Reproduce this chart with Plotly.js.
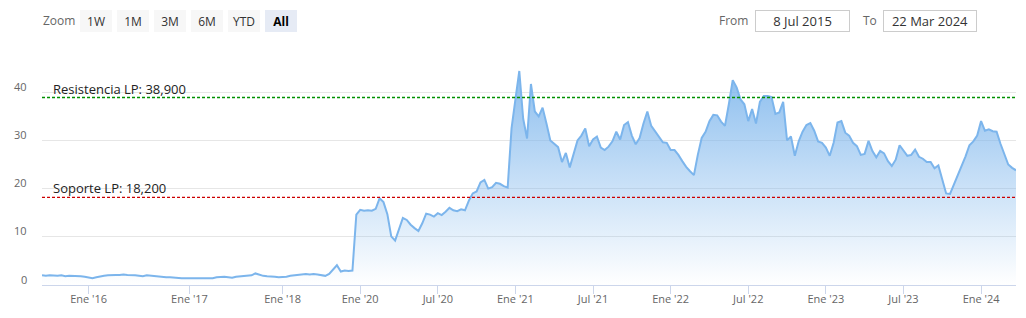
<!DOCTYPE html>
<html>
<head>
<meta charset="utf-8">
<script src="https://cdn.plot.ly/plotly-3.0.1.min.js"></script>
<style>
html,body{margin:0;padding:0;background:#fff;}
#chart{width:1026px;height:318px;}
</style>
</head>
<body>
<div id="chart"></div>
<script>
// ---- Data (ordinal points, one array per period; label marks the start of the period) ----
const periodLabels = ["", "Ene '16", "Ene '17", "Ene '18", "Ene '20", "Jul '20", "Ene '21", "Jul '21", "Ene '22", "Jul '22", "Ene '23", "Jul '23", "Ene '24"];
const v2015H2 = [2.0,1.9,2.0,1.9,1.9,2.0,1.8,1.9,1.9,1.8,1.8,1.7];
const v2016   = [1.6,1.4,1.6,1.8,1.9,2.0,2.1,2.1,2.1,2.2,2.1,2.1,2.0,1.9,1.8,2.0,1.9,1.8,1.8,1.7,1.6,1.6,1.5,1.5,1.4,1.4];
const v2017   = [1.4,1.3,1.3,1.3,1.4,1.3,1.4,1.6,1.7,1.7,1.6,1.5,1.7,1.8,1.9,1.9,2.0,2.4,2.1,1.9,1.8,1.8,1.7,1.6];
const v2018_19 = [1.6,1.7,1.9,2.0,2.1,2.2,2.3,2.2,2.3,2.2,2.0,1.9,2.3,3.2,4.1,2.8,3.0,2.9,3.0,14.6];
const v2020H1 = [15.6,15.4,15.5,15.4,15.8,18.0,17.2,14.7,10.1,9.2,11.5,13.9,13.5,12.5,11.8,11.2,12.8,14.8,14.6,14.2];
const v2020H2 = [14.9,14.5,15.2,16.0,15.5,15.3,15.7,15.5,17.5,19.0,19.4,21.3,21.8,20.0,20.3,21.2,21.0,20.5,20.2,32.5];
const v2021H1 = [38.5,44.4,34.5,30.4,41.7,36.0,35.0,36.8,33.5,30.0,29.3,28.6,25.5,27.4,24.4,27.5,30.0,31.0,32.5,28.8];
const v2021H2 = [30.2,30.8,28.5,28.0,28.7,29.8,31.8,30.2,33.2,33.8,31.0,29.2,30.5,33.5,36.0,33.0,31.8,30.8,29.6,29.5];
const v2022H1 = [28.0,28.0,27.0,25.7,24.5,23.6,22.8,27.0,30.5,31.8,34.0,35.3,35.2,33.9,33.0,37.5,42.5,41.0,38.5,37.5];
const v2022H2 = [34.0,36.5,33.5,38.0,39.2,39.2,39.0,35.5,35.8,38.0,30.0,30.8,26.8,29.8,31.8,33.2,33.6,32.0,29.8,29.5];
const v2023H1 = [28.5,26.8,29.5,33.7,34.0,31.6,31.0,29.5,28.8,27.0,27.2,29.9,27.8,26.5,27.8,27.3,25.7,24.7,26.0,29.0];
const v2023H2 = [28.0,26.8,27.0,28.1,26.6,26.2,25.5,25.5,24.2,24.8,21.9,19.0,18.9,20.8,23.0,25.0,26.7,29.0,29.8,31.0];
const v2024   = [34.0,32.0,32.3,31.9,31.8,29.3,27.2,25.0,24.3,23.8];

const resistencia = 38.9;
const soporte = 18.2;
const resistenciaLabel = "Resistencia LP: 38,900";
const soporteLabel = "Soporte LP: 18,200";
const yGridVals = [0, 10, 20, 30, 40, 50];
const yLabelVals = [0, 10, 20, 30, 40];
const zoomButtons = ["1W", "1M", "3M", "6M", "YTD", "All"];
const fromDate = "8 Jul 2015";
const toDate = "22 Mar 2024";

// ---- Build series on an ordinal axis ----
const periods = [v2015H2, v2016, v2017, v2018_19, v2020H1, v2020H2, v2021H1, v2021H2, v2022H1, v2022H2, v2023H1, v2023H2, v2024];
const values = [], tickvals = [], ticktext = [];
periods.forEach((arr, k) => {
  if (periodLabels[k]) { tickvals.push(values.length); ticktext.push(periodLabels[k]); }
  arr.forEach(v => values.push(v));
});
const xs = values.map((_, i) => i);
const vmax = Math.max(...values);

// ---- Layout geometry ----
const W = 1026, H = 318;
const M = {l: 42, r: 10, t: 44, b: 33};
const PW = W - M.l - M.r, PH = H - M.t - M.b;
const px = p => (p - M.l) / PW;          // pixel x -> paper
const py = p => (H - M.b - p) / PH;      // pixel y -> paper

const FONT = "Open Sans, DejaVu Sans, sans-serif";
const annotations = [];

// Zoom label + buttons
annotations.push({xref:'paper', yref:'paper', x:px(42), y:py(21), xanchor:'left', yanchor:'middle',
  text:'Zoom', showarrow:false, font:{family:FONT, size:12, color:'#666666'}, borderpad:0});
zoomButtons.forEach((b, k) => {
  const sel = b === 'All';
  annotations.push({xref:'paper', yref:'paper', x:px(80 + k*37), y:py(10), xanchor:'left', yanchor:'top',
    width:32, height:22, bgcolor: sel ? '#e6ebf5' : '#f7f7f7', borderpad:0, borderwidth:0,
    text: sel ? '<b>'+b+'</b>' : b, showarrow:false, align:'center', valign:'middle',
    font:{family:FONT, size:12, color: sel ? '#000000' : '#333333'}});
});
// From / To
annotations.push({xref:'paper', yref:'paper', x:px(718), y:py(21), xanchor:'left', yanchor:'middle',
  text:'From', showarrow:false, font:{family:FONT, size:12, color:'#666666'}, borderpad:0});
annotations.push({xref:'paper', yref:'paper', x:px(755), y:py(10), xanchor:'left', yanchor:'top',
  width:93, height:20, borderpad:0, borderwidth:1, bordercolor:'#cccccc', bgcolor:'#ffffff',
  text:fromDate, showarrow:false, align:'center', valign:'middle', font:{family:FONT, size:13, color:'#333333'}});
annotations.push({xref:'paper', yref:'paper', x:px(862), y:py(21), xanchor:'left', yanchor:'middle',
  text:'To', showarrow:false, font:{family:FONT, size:12, color:'#666666'}, borderpad:0});
annotations.push({xref:'paper', yref:'paper', x:px(883), y:py(10), xanchor:'left', yanchor:'top',
  width:92, height:20, borderpad:0, borderwidth:1, bordercolor:'#cccccc', bgcolor:'#ffffff',
  text:toDate, showarrow:false, align:'center', valign:'middle', font:{family:FONT, size:13, color:'#333333'}});

// Y-axis labels (drawn slightly above their grid lines, as in the original)
yLabelVals.forEach(v => {
  annotations.push({xref:'paper', yref:'y', x:px(28), y:v, xanchor:'right', yanchor:'middle', yshift:6,
    text:String(v), showarrow:false, borderpad:0, font:{family:FONT, size:11, color:'#666666'}});
});

// Plot line labels
annotations.push({xref:'paper', yref:'y', x:10/PW, y:resistencia, xanchor:'left', yanchor:'bottom', yshift:-1,
  text:resistenciaLabel, showarrow:false, borderpad:0, font:{family:FONT, size:13, color:'#222222'}});
annotations.push({xref:'paper', yref:'y', x:10/PW, y:soporte, xanchor:'left', yanchor:'bottom', yshift:-1,
  text:soporteLabel, showarrow:false, borderpad:0, font:{family:FONT, size:13, color:'#222222'}});

const shapes = [
  {type:'line', xref:'paper', yref:'y', x0:0, x1:1, y0:resistencia, y1:resistencia,
   line:{color:'#009000', width:1.3, dash:'3px,2px'}},
  {type:'line', xref:'paper', yref:'y', x0:0, x1:1, y0:soporte, y1:soporte,
   line:{color:'#cc0000', width:1.3, dash:'3px,2px'}}
];

const trace = {
  x: xs, y: values, type:'scatter', mode:'lines',
  line:{color:'#7cb5ec', width:2},
  fill:'tozeroy',
  fillgradient:{type:'vertical', start:0, stop:vmax,
    colorscale:[[0,'rgba(124,181,236,0)'],[1,'rgba(124,181,236,0.88)']]},
  hoverinfo:'skip'
};

const layout = {
  width:W, height:H, margin:M, paper_bgcolor:'#ffffff', plot_bgcolor:'#ffffff',
  showlegend:false, hovermode:false,
  font:{family:FONT, color:'#666666'},
  xaxis:{range:[0, values.length-1], tickmode:'array', tickvals:tickvals, ticktext:ticktext,
    showgrid:false, zeroline:false, showline:true, linecolor:'#ccd6eb', linewidth:1,
    ticks:'outside', ticklen:8, tickcolor:'#ccd6eb', tickwidth:1, ticklabelstandoff:-4,
    tickfont:{family:FONT, size:11, color:'#666666'}, fixedrange:true},
  yaxis:{range:[0,50], tickmode:'array', tickvals:yGridVals, showticklabels:false,
    showgrid:true, gridcolor:'#e6e6e6', gridwidth:1, zeroline:false, showline:false, ticks:'',
    fixedrange:true},
  shapes:shapes, annotations:annotations
};

Plotly.newPlot('chart', [trace], layout, {displayModeBar:false, staticPlot:true});
</script>
</body>
</html>
